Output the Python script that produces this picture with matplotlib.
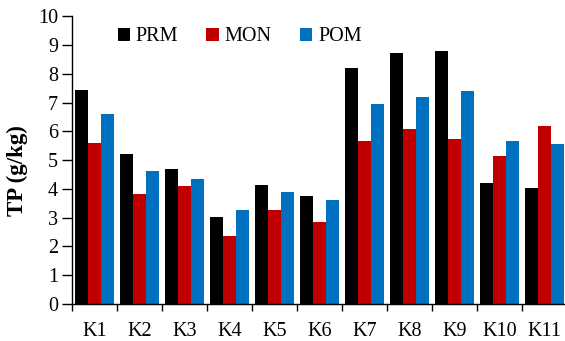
import matplotlib
matplotlib.use("Agg")
import matplotlib.pyplot as plt
import numpy as np

categories = ["K1", "K2", "K3", "K4", "K5", "K6", "K7", "K8", "K9", "K10", "K11"]
prm = [7.43, 5.22, 4.68, 3.01, 4.12, 3.74, 8.22, 8.73, 8.81, 4.21, 4.02]
mon = [5.58, 3.82, 4.10, 2.35, 3.26, 2.85, 5.66, 6.08, 5.75, 5.16, 6.17]
pom = [6.62, 4.64, 4.33, 3.26, 3.88, 3.60, 6.94, 7.18, 7.41, 5.66, 5.57]
series_names = ["PRM", "MON", "POM"]
colors = ["#000000", "#C00000", "#0070C0"]

plt.rcParams['font.family'] = ['Liberation Serif', 'DejaVu Serif']
plt.rcParams['font.serif'] = ['Liberation Serif']

W, H = 565, 341
fig = plt.figure(figsize=(W / 100, H / 100), dpi=100)
left, right, top, bottom = 72, 567, 16.3, 304
ax = fig.add_axes([left / W, 1 - bottom / H, (right - left) / W, (bottom - top) / H])

x = np.arange(len(categories))
bw = 0.289
for i, (vals, name, c) in enumerate(zip([prm, mon, pom], series_names, colors)):
    ax.bar(x + (i - 1) * bw, vals, width=bw, color=c, label=name, edgecolor='none')

fs = 14.5
ax.set_xlim(-0.5, len(categories) - 0.5)
ax.set_ylim(0, 10)
ax.set_yticks(range(0, 11))
ax.set_xticks(x)
ax.set_xticklabels(categories, fontsize=fs, family='Liberation Serif')
for lab in ax.get_yticklabels():
    lab.set_family('Liberation Serif')
ax.set_xticks(np.arange(-0.5, len(categories), 1), minor=True)
ax.tick_params(axis='x', which='major', length=0, pad=13)
ax.tick_params(axis='x', which='minor', length=5, width=1, direction='out')
ax.tick_params(axis='y', labelsize=fs, length=7, width=1, direction='out', pad=3)
for s in ['top', 'right']:
    ax.spines[s].set_visible(False)
for s in ['left', 'bottom']:
    ax.spines[s].set_linewidth(1)
ax.set_ylabel("TP (g/kg)", fontsize=16.5, fontweight='bold', family='Liberation Serif')
ax.yaxis.set_label_coords(-0.089, 0.465)

leg = ax.legend(loc='upper left', bbox_to_anchor=(0.076, 0.99), ncol=3, frameon=False,
                prop={'family': 'Liberation Serif', 'size': 14.5},
                handlelength=0.6, handleheight=0.6, handletextpad=0.3,
                columnspacing=1.4, borderaxespad=0)

fig.savefig("out.png", dpi=100)
